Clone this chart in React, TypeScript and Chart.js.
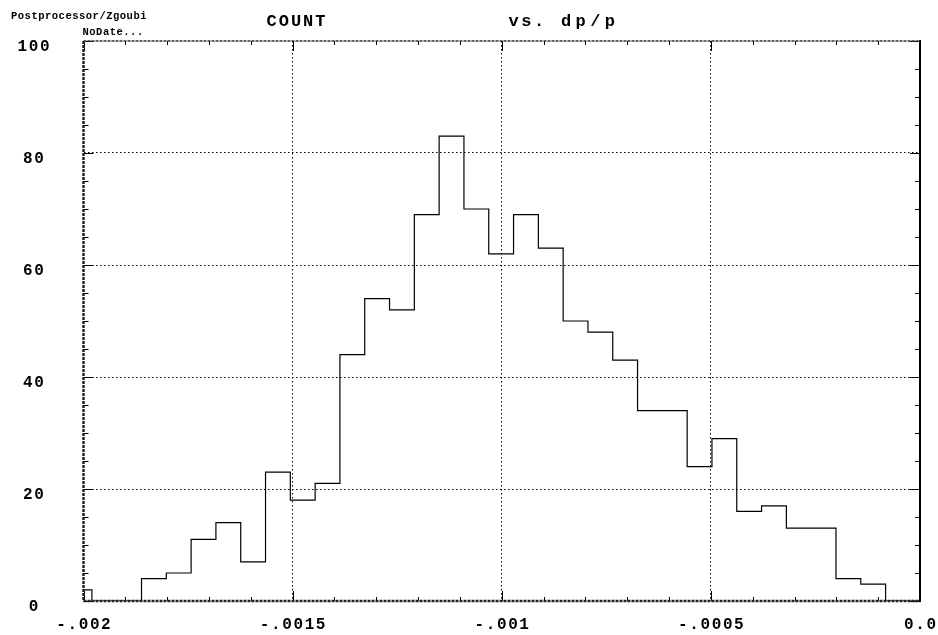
import React, { useEffect, useRef } from 'react';
import { Chart, registerables } from 'chart.js';

Chart.register(...registerables);

// Histogram of dp/p: uniform bins, counts per bin (first bin is partly left of the axis)
const binStart = -0.0020392;
const binWidth = 0.0000593;
const counts = [
  2, 0, 0, 4, 5, 11, 14, 7, 23, 18, 21, 44, 54, 52, 69, 83, 70,
  62, 69, 63, 50, 48, 43, 34, 34, 24, 29, 16, 17, 13, 13, 4, 3,
];

const xMin = -0.002;
const xMax = 0;
const yMin = 0;
const yMax = 100;
const xTickValues = [-0.002, -0.0015, -0.001, -0.0005, 0];
const xTickLabels = ['-.002', '-.0015', '-.001', '-.0005', '0.0'];
const yTickValues = [0, 20, 40, 60, 80, 100];
const yTickLabels = ['0', '20', '40', '60', '80', '100'];
const xMinorStep = 0.0001;
const yMinorStep = 5;

const headerText = 'Postprocessor/Zgoubi';
const dateText = 'NoDate...';
const titleWords = ['COUNT', 'vs.', 'dp/p'];

const MONO = '"Liberation Mono", "Courier New", "DejaVu Sans Mono", monospace';

function histogramPoints() {
  const pts = counts.map((c, i) => ({ x: binStart + i * binWidth, y: c }));
  pts.push({ x: binStart + counts.length * binWidth, y: 0 });
  pts.push({ x: xMax, y: 0 });
  return pts;
}

function drawText(
  ctx: CanvasRenderingContext2D,
  text: string,
  x: number,
  y: number,
  font: string,
  spacing: number,
  align: CanvasTextAlign
) {
  ctx.font = font;
  (ctx as any).letterSpacing = `${spacing}px`;
  ctx.textAlign = align;
  ctx.textBaseline = 'alphabetic';
  const dx = align === 'center' ? spacing / 2 : 0;
  ctx.fillText(text, x + dx, y);
}

const framePlugin = {
  id: 'zgoubiFrame',
  afterDraw(chart: any) {
    const { ctx, chartArea: a, scales } = chart;
    const xs = scales.x;
    const ys = scales.y;
    ctx.save();

    // inward ticks on all four sides
    ctx.strokeStyle = '#000';
    ctx.lineWidth = 1;
    ctx.setLineDash([]);
    const nx = Math.round((xMax - xMin) / xMinorStep);
    for (let i = 0; i <= nx; i++) {
      const v = xMin + i * xMinorStep;
      const px = Math.round(xs.getPixelForValue(v)) + 0.5;
      const len = i % 5 === 0 ? 10 : 4;
      ctx.beginPath();
      ctx.moveTo(px, a.bottom);
      ctx.lineTo(px, a.bottom - len);
      ctx.moveTo(px, a.top);
      ctx.lineTo(px, a.top + len);
      ctx.stroke();
    }
    const ny = Math.round((yMax - yMin) / yMinorStep);
    for (let i = 0; i <= ny; i++) {
      const v = yMin + i * yMinorStep;
      const py = Math.round(ys.getPixelForValue(v)) + 0.5;
      const len = i % 4 === 0 ? 10 : 5;
      ctx.beginPath();
      ctx.moveTo(a.left, py);
      ctx.lineTo(a.left + len, py);
      ctx.moveTo(a.right, py);
      ctx.lineTo(a.right - len, py);
      ctx.stroke();
    }

    // frame
    ctx.lineWidth = 2.5;
    ctx.strokeStyle = '#222';
    ctx.setLineDash([3, 1]);
    ctx.beginPath();
    ctx.moveTo(a.left, a.top);
    ctx.lineTo(a.left, a.bottom);
    ctx.lineTo(a.right, a.bottom);
    ctx.stroke();
    ctx.lineWidth = 1.5;
    ctx.strokeStyle = '#333';
    ctx.beginPath();
    ctx.moveTo(a.left, a.top);
    ctx.lineTo(a.right, a.top);
    ctx.stroke();
    ctx.setLineDash([]);
    ctx.lineWidth = 2;
    ctx.strokeStyle = '#000';
    ctx.beginPath();
    ctx.moveTo(a.right, a.top - 1);
    ctx.lineTo(a.right, a.bottom + 1);
    ctx.stroke();

    // tick labels
    ctx.fillStyle = '#000';
    const labelFont = `bold 16px ${MONO}`;
    xTickValues.forEach((v, i) => {
      drawText(ctx, xTickLabels[i], xs.getPixelForValue(v), a.bottom + 28, labelFont, 1.6, 'center');
    });
    yTickValues.forEach((v, i) => {
      drawText(ctx, yTickLabels[i], 33.5, ys.getPixelForValue(v) + 10, labelFont, 1.6, 'center');
    });

    // header and title
    drawText(ctx, headerText, 11, 18.5, `bold 10.5px ${MONO}`, 0.5, 'left');
    drawText(ctx, dateText, 82.5, 35, `bold 10.5px ${MONO}`, 0.5, 'left');
    const titleFont = `bold 17px ${MONO}`;
    drawText(ctx, titleWords[0], 266.5, 26, titleFont, 2.0, 'left');
    drawText(ctx, titleWords[1], 508.5, 26, titleFont, 2.6, 'left');
    drawText(ctx, titleWords[2], 561, 26, titleFont, 4.4, 'left');

    ctx.restore();
  },
};

export default function App() {
  const canvasRef = useRef<HTMLCanvasElement | null>(null);

  useEffect(() => {
    const canvas = canvasRef.current;
    if (!canvas) return;
    const chart = new Chart(canvas, {
      type: 'line',
      data: {
        datasets: [
          {
            data: histogramPoints(),
            stepped: 'before',
            borderColor: '#000',
            borderWidth: 1.2,
            pointRadius: 0,
            fill: false,
            tension: 0,
          },
        ],
      },
      options: {
        responsive: false,
        animation: false,
        events: [],
        layout: { padding: { left: 0, top: 41, right: 18, bottom: 0 } },
        plugins: {
          legend: { display: false },
          title: { display: false },
          tooltip: { enabled: false },
        },
        scales: {
          x: {
            type: 'linear',
            min: xMin,
            max: xMax,
            afterBuildTicks: (s: any) => {
              s.ticks = xTickValues.map((v) => ({ value: v }));
            },
            afterFit: (s: any) => {
              s.height = 34;
            },
            ticks: { display: false },
            grid: {
              color: (c: any) =>
                c.tick && (c.tick.value === xMin || c.tick.value === xMax) ? 'rgba(0,0,0,0)' : '#000',
              lineWidth: 1,
              drawTicks: false,
            },
            border: { display: false, dash: [1.5, 2.5] },
          },
          y: {
            type: 'linear',
            min: yMin,
            max: yMax,
            afterBuildTicks: (s: any) => {
              s.ticks = yTickValues.map((v) => ({ value: v }));
            },
            afterFit: (s: any) => {
              s.width = 83.5;
            },
            ticks: { display: false },
            grid: {
              color: (c: any) =>
                c.tick && (c.tick.value === yMin || c.tick.value === yMax) ? 'rgba(0,0,0,0)' : '#000',
              lineWidth: 1,
              drawTicks: false,
            },
            border: { display: false, dash: [1.5, 2.5] },
          },
        },
      },
      plugins: [framePlugin],
    });
    return () => chart.destroy();
  }, []);

  return (
    <div style={{ position: 'absolute', left: 0, top: 0, width: 938, height: 635, background: '#fff' }}>
      <canvas ref={canvasRef} width={938} height={635} />
    </div>
  );
}
